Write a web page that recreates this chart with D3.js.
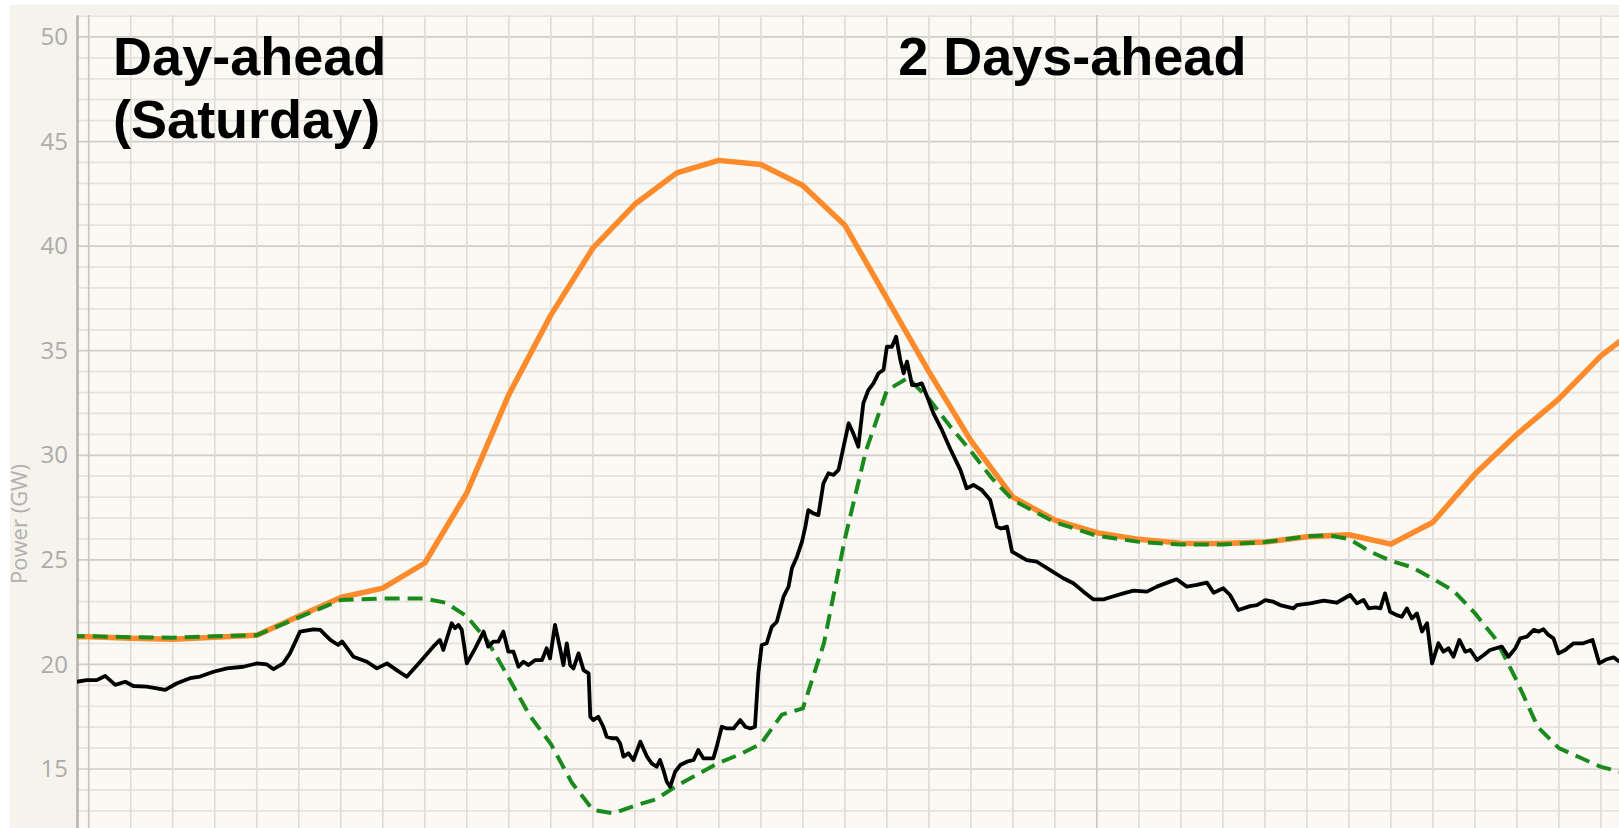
<!DOCTYPE html>
<html>
<head>
<meta charset="utf-8">
<script src="https://cdn.jsdelivr.net/npm/d3@7"></script>
<style>
  body { margin: 0; background: #fff; }
  svg { display: block; }
</style>
</head>
<body>
<script>
// hourly forecast (orange), hour 0 = first grid line
var forecastHours = d3.range(-1, 38);
var forecastGW = [21.35, 21.32, 21.25, 21.2, 21.3, 21.4, 22.3, 23.2, 23.65, 24.85,
    28.2, 32.9, 36.7, 39.9, 42.0, 43.5, 44.1, 43.9, 42.9, 41.0,
    37.5, 34.0, 30.7, 28.0, 26.9, 26.3, 25.98, 25.8, 25.78, 25.85,
    26.1, 26.2, 25.75, 26.8, 29.1, 31.0, 32.7, 34.75, 36.3];

// second forecast (green dashed)
var forecast2Hours = [-1, 0, 1, 2, 3, 4, 5, 6, 7, 8, 8.5, 9, 9.5, 10, 10.5, 11, 11.5, 12, 12.5, 13,
    13.5, 14, 14.5, 15, 15.5, 16, 16.5, 17, 17.5, 18, 18.5, 19, 19.5, 20, 20.5, 21, 21.5, 22,
    23, 24, 25, 26, 27, 28, 29, 29.5, 30, 30.5, 31, 31.5, 32, 32.5, 33, 33.5, 34, 34.5, 35,
    35.5, 36, 36.5, 37];
var forecast2GW = [21.35, 21.35, 21.3, 21.28, 21.35, 21.4, 22.25, 23.08, 23.15, 23.15, 22.95, 22.3, 21.1, 19.35, 17.55, 16.2, 14.35, 13.05, 12.88, 13.25,
    13.55, 14.2, 14.75, 15.3, 15.7, 16.2, 17.6, 17.9, 21.0, 26.0, 30.2, 33.1, 33.7, 32.7, 31.4, 30.2, 28.9, 27.86,
    26.8, 26.15, 25.86, 25.73, 25.74, 25.85, 26.12, 26.18, 26.0, 25.4, 24.95, 24.65, 24.1, 23.5, 22.45, 21.2, 19.2, 17.0, 16.0,
    15.55, 15.1, 14.85, 14.6];

// measured output (black), [hour, GW]
var actual = [
    [-0.29, 19.17], [-0.05, 19.25], [0.19, 19.25], [0.39, 19.45], [0.63, 19.02], [0.87, 19.17], [1.06, 18.97], [1.38, 18.94],
    [1.62, 18.86], [1.82, 18.78], [2.1, 19.1], [2.41, 19.34], [2.65, 19.42], [2.97, 19.65], [3.29, 19.81], [3.68, 19.89],
    [4.0, 20.05], [4.24, 20.0], [4.4, 19.77], [4.63, 20.05], [4.79, 20.53], [5.03, 21.57], [5.35, 21.68], [5.51, 21.65],
    [5.75, 21.17], [5.94, 20.93], [6.03, 21.1], [6.3, 20.37], [6.62, 20.13], [6.86, 19.81], [7.1, 20.05], [7.33, 19.73],
    [7.57, 19.41], [7.89, 20.13], [8.2, 20.85], [8.36, 21.17], [8.44, 20.69], [8.64, 21.97], [8.72, 21.73], [8.8, 21.89],
    [8.88, 21.65], [9.0, 20.05], [9.2, 20.77], [9.4, 21.57], [9.51, 20.85], [9.63, 21.09], [9.75, 21.09], [9.87, 21.57],
    [9.99, 20.61], [10.11, 20.61], [10.23, 19.89], [10.35, 20.13], [10.47, 19.97], [10.63, 20.21], [10.79, 20.21], [10.9, 20.77],
    [10.98, 20.29], [11.1, 21.89], [11.22, 20.77], [11.3, 19.97], [11.38, 21.01], [11.46, 19.97], [11.54, 19.81], [11.66, 20.53],
    [11.78, 19.73], [11.9, 19.57], [11.94, 17.5], [12.01, 17.34], [12.13, 17.5], [12.25, 17.02], [12.33, 16.55], [12.45, 16.47],
    [12.57, 16.47], [12.65, 16.23], [12.73, 15.59], [12.85, 15.75], [12.97, 15.43], [13.13, 16.31], [13.29, 15.59], [13.4, 15.27],
    [13.52, 15.11], [13.6, 15.43], [13.68, 14.95], [13.76, 14.39], [13.84, 14.15], [13.96, 14.87], [14.08, 15.19], [14.24, 15.35],
    [14.4, 15.43], [14.51, 15.91], [14.63, 15.51], [14.87, 15.51], [14.95, 16.07], [15.07, 17.02], [15.19, 16.94], [15.35, 16.94],
    [15.51, 17.34], [15.63, 17.02], [15.75, 16.94], [15.86, 17.02], [15.94, 19.57], [16.02, 20.93], [16.14, 21.01], [16.26, 21.8],
    [16.38, 22.04], [16.54, 23.24], [16.66, 23.72], [16.74, 24.6], [16.86, 25.15], [16.98, 25.87], [17.06, 26.59], [17.13, 27.38],
    [17.25, 27.22], [17.37, 27.14], [17.49, 28.66], [17.61, 29.14], [17.73, 29.06], [17.85, 29.3], [17.97, 30.41], [18.09, 31.53],
    [18.2, 31.05], [18.32, 30.41], [18.44, 32.49], [18.56, 33.12], [18.68, 33.44], [18.8, 33.92], [18.92, 34.08], [19.0, 35.19],
    [19.12, 35.19], [19.22, 35.67], [19.32, 34.56], [19.4, 33.92], [19.48, 34.48], [19.6, 33.36], [19.71, 33.36], [19.83, 33.44],
    [19.95, 32.85], [20.11, 32.0], [20.31, 31.21], [20.51, 30.3], [20.75, 29.3], [20.9, 28.42], [21.06, 28.58], [21.26, 28.34],
    [21.46, 27.86], [21.62, 26.59], [21.72, 26.5], [21.86, 26.59], [21.98, 25.39], [22.33, 24.99], [22.57, 24.91], [22.89, 24.51],
    [23.2, 24.12], [23.44, 23.88], [23.68, 23.48], [23.92, 23.11], [24.16, 23.11], [24.32, 23.21], [24.63, 23.4], [24.87, 23.53],
    [25.19, 23.48], [25.43, 23.72], [25.74, 23.96], [25.9, 24.07], [26.14, 23.72], [26.38, 23.8], [26.62, 23.91], [26.78, 23.43],
    [27.01, 23.64], [27.17, 23.32], [27.37, 22.6], [27.65, 22.79], [27.81, 22.84], [28.01, 23.07], [28.2, 23.0], [28.36, 22.84],
    [28.68, 22.68], [28.76, 22.84], [29.08, 22.92], [29.4, 23.05], [29.71, 22.95], [30.03, 23.32], [30.19, 22.92], [30.35, 23.08],
    [30.47, 22.68], [30.63, 22.73], [30.75, 22.68], [30.86, 23.4], [30.98, 22.52], [31.14, 22.36], [31.26, 22.28], [31.38, 22.68],
    [31.5, 22.2], [31.62, 22.44], [31.74, 21.57], [31.86, 21.97], [31.98, 20.05], [32.13, 21.01], [32.25, 20.61], [32.37, 20.77],
    [32.49, 20.37], [32.63, 21.17], [32.77, 20.61], [32.89, 20.69], [33.05, 20.21], [33.21, 20.45], [33.36, 20.69], [33.64, 20.85],
    [33.8, 20.37], [33.96, 20.77], [34.08, 21.25], [34.24, 21.33], [34.4, 21.65], [34.52, 21.57], [34.63, 21.68], [34.75, 21.41],
    [34.87, 21.25], [34.99, 20.53], [35.15, 20.69], [35.35, 21.01], [35.58, 21.01], [35.8, 21.17], [35.96, 20.05], [36.14, 20.25],
    [36.3, 20.34], [36.44, 20.13]
];

var yTicks = [15, 20, 25, 30, 35, 40, 45, 50];
var titles = [
    { lines: ["Day-ahead", "(Saturday)"], hour: 0.58 },
    { lines: ["2 Days-ahead"], hour: 19.27 }
];

var width = 1619,
    height = 828;
var plotLeft = 77,
    plotTop = 15;

var svg = d3.select("body")
    .append("svg")
    .attr("width", width)
    .attr("height", height);

// panel + plot background
svg.append("rect")
    .attr("x", 10).attr("y", 5)
    .attr("width", width - 10).attr("height", height - 5)
    .attr("fill", "#f6f3ed");
svg.append("rect")
    .attr("x", plotLeft).attr("y", plotTop)
    .attr("width", width - plotLeft).attr("height", height - plotTop)
    .attr("fill", "#fbf9f4");

var x = d3.scaleLinear().domain([-0.28, 36.43]).range([plotLeft, width]);
var y = d3.scaleLinear().domain([12.18, 51.05]).range([height, plotTop]);

svg.append("clipPath").attr("id", "plotclip")
    .append("rect")
    .attr("x", plotLeft).attr("y", plotTop)
    .attr("width", width - plotLeft).attr("height", height - plotTop);

// grid
var grid = svg.append("g");
grid.selectAll(".hgrid")
    .data(d3.range(13, 52))
    .enter().append("line")
    .attr("x1", plotLeft).attr("x2", width)
    .attr("y1", function (d) { return y(d); })
    .attr("y2", function (d) { return y(d); })
    .attr("stroke", function (d) { return d % 5 == 0 ? "#cfcdc9" : "#e6e3de"; })
    .attr("stroke-width", 1.7);
grid.selectAll(".vgrid")
    .data(d3.range(0, 37))
    .enter().append("line")
    .attr("y1", plotTop).attr("y2", height)
    .attr("x1", function (d) { return x(d); })
    .attr("x2", function (d) { return x(d); })
    .attr("stroke", function (d) { return d % 24 == 0 ? "#c9c7c3" : "#e0ddd8"; })
    .attr("stroke-width", 1.7);

// y axis
var yAxis = svg.append("g")
    .attr("transform", "translate(" + plotLeft + ",0)")
    .call(d3.axisLeft(y).tickValues(yTicks).tickSize(0).tickPadding(9));
yAxis.select(".domain").attr("stroke", "#b4b2ae").attr("stroke-width", 2.5);
yAxis.selectAll("text")
    .attr("fill", "#ababab")
    .attr("font-family", "'Open Sans', sans-serif")
    .attr("font-size", 24);

svg.append("text")
    .attr("transform", "translate(27,524) rotate(-90)")
    .attr("text-anchor", "middle")
    .attr("fill", "#b0b0b0")
    .style("font-family", "'Open Sans', sans-serif")
    .style("font-size", "22px")
    .text("Power (GW)");

// lines
var plot = svg.append("g").attr("clip-path", "url(#plotclip)");
var line = d3.line()
    .x(function (d) { return x(d[0]); })
    .y(function (d) { return y(d[1]); });

plot.append("path")
    .datum(d3.zip(forecastHours, forecastGW))
    .attr("d", line)
    .attr("fill", "none")
    .attr("stroke", "#fd8a2b")
    .attr("stroke-width", 5.5)
    .attr("stroke-linejoin", "round");

plot.append("path")
    .datum(d3.zip(forecast2Hours, forecast2GW))
    .attr("d", line)
    .attr("fill", "none")
    .attr("stroke", "#1b8a1d")
    .attr("stroke-width", 4)
    .attr("stroke-dasharray", "15,8");

plot.append("path")
    .datum(actual)
    .attr("d", line)
    .attr("fill", "none")
    .attr("stroke", "#000")
    .attr("stroke-width", 3.8)
    .attr("stroke-linejoin", "round");

// titles
titles.forEach(function (t) {
    var txt = svg.append("text")
        .attr("x", x(t.hour))
        .attr("y", 75)
        .style("font-family", "'Liberation Sans', Arial, sans-serif")
        .style("font-weight", "bold")
        .style("font-size", "54px")
        .attr("fill", "#000");
    txt.selectAll("tspan")
        .data(t.lines)
        .enter().append("tspan")
        .attr("x", x(t.hour))
        .attr("dy", function (d, i) { return i == 0 ? 0 : 63; })
        .text(function (d) { return d; });
});
</script>
</body>
</html>
